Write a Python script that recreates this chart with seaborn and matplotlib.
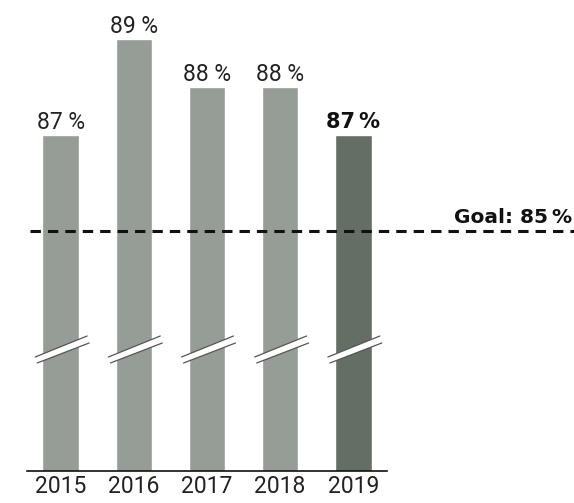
import matplotlib
matplotlib.use("Agg")
import matplotlib.pyplot as plt
import matplotlib.transforms as mtransforms
from matplotlib.patches import Polygon
import pandas as pd
import seaborn as sns

# Share of target reached per year (%)
years = ["2015", "2016", "2017", "2018", "2019"]
values = [87, 89, 88, 88, 87]
goal = 85
goal_label = "Goal:"
bar_colors = ["#959d96", "#959d96", "#959d96", "#959d96", "#646e64"]

sns.set_style("white")
plt.rcParams["font.family"] = ["Roboto", "DejaVu Sans"]

df = pd.DataFrame({"year": years, "value": values})

W, H = 574, 503
fig = plt.figure(figsize=(W / 100, H / 100), dpi=100)
ax = fig.add_axes([27 / W, (H - 471) / H, 360 / W, 471 / H])

sns.barplot(data=df, x="year", y="value", hue="year", palette=bar_colors,
            width=0.5, legend=False, ax=ax, saturation=1)

ax.set_xlim(-0.46, 4.46)
ax.set_ylim(80, 80 + 471 / 48)
ax.set_xlabel("")
ax.set_ylabel("")
ax.set_yticks([])
ax.tick_params(axis="x", length=0, pad=3, labelsize=16.5, labelcolor="#222222")
for side in ("top", "left", "right"):
    ax.spines[side].set_visible(False)
ax.spines["bottom"].set_color("#111111")
ax.spines["bottom"].set_linewidth(1.2)

# Value labels above the bars; the latest year is emphasised
for i, v in enumerate(values):
    last = i == len(values) - 1
    if last:
        ax.annotate(f"{v}\u2009%", (i, v), xytext=(0, 5), textcoords="offset points",
                    ha="center", va="baseline", fontsize=15, fontweight="bold",
                    family="DejaVu Sans", color="#111111")
    else:
        ax.annotate(f"{v} %", (i, v), xytext=(0, 4.5), textcoords="offset points",
                    ha="center", va="baseline", fontsize=16.5, color="#222222")

# Axis-break marks across each bar
px_x = 1 / 73.25
px_y = 1 / 48
y_at = lambda py: 80 + (471 - py) * px_y
for i in range(len(values)):
    upper = [(i - 25.5 * px_x, y_at(357)), (i + 26.5 * px_x, y_at(336))]
    lower = [(i + 28.5 * px_x, y_at(343)), (i - 23.5 * px_x, y_at(363))]
    ax.add_patch(Polygon(upper + lower, closed=True, facecolor="white",
                         edgecolor="none", zorder=5, clip_on=False))
    for seg in (upper, lower):
        ax.plot([p[0] for p in seg], [p[1] for p in seg], color="#555555",
                lw=0.9, zorder=6, clip_on=False)

# Goal line running past the plot to the right edge
trans = mtransforms.blended_transform_factory(ax.transAxes, ax.transData)
ax.plot([3 / 360, (W - 27) / 360], [goal, goal], transform=trans, color="#111111",
        lw=2.2, dashes=(3.4, 2.3), zorder=7, clip_on=False)
ax.annotate(f"{goal_label} {goal}\u2009%", ((572 - 27) / 360, goal), xycoords=trans,
            xytext=(0, 6), textcoords="offset points", ha="right", va="baseline",
            fontsize=14.5, fontweight="bold", family="DejaVu Sans", color="#111111",
            annotation_clip=False)

fig.savefig("out.png", dpi=100)
